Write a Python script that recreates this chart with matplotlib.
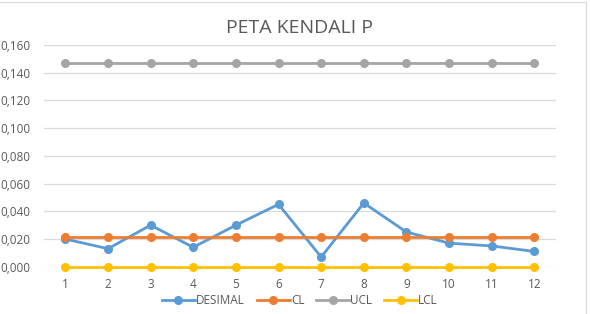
import matplotlib
matplotlib.use("Agg")
import matplotlib.pyplot as plt
from matplotlib.lines import Line2D
from matplotlib.ticker import FuncFormatter

# data
sampel = [1, 2, 3, 4, 5, 6, 7, 8, 9, 10, 11, 12]
desimal = [0.020, 0.013, 0.030, 0.014, 0.030, 0.045, 0.007, 0.046, 0.025, 0.017, 0.015, 0.011]
cl = [0.0212] * 12
ucl = [0.147] * 12
lcl = [0.0] * 12

plt.rcParams['font.family'] = ['Open Sans', 'DejaVu Sans']
txt = '#595959'

fig = plt.figure(figsize=(5.9, 3.14), dpi=100)
ax = fig.add_axes([44 / 590, 0.1506, (555.7 - 44) / 590, 0.8567 - 0.1506])

series = [("DESIMAL", desimal, '#5B9BD5'), ("CL", cl, '#ED7D31'),
          ("UCL", ucl, '#A5A5A5'), ("LCL", lcl, '#FFC000')]
for name, vals, col in series:
    ax.plot(sampel, vals, color=col, lw=2.0, marker='o', ms=5.5, label=name, clip_on=False)

ax.set_xlim(0.5, 12.5)
ax.set_ylim(0, 0.16)
ax.set_yticks([i * 0.02 for i in range(9)])
ax.set_xticks(sampel)
ax.yaxis.set_major_formatter(FuncFormatter(lambda v, p: f"{v:.3f}".replace('.', ',')))
ax.grid(axis='y', color='#D9D9D9', lw=0.9)
ax.set_axisbelow(True)
for s in ax.spines.values():
    s.set_visible(False)
ax.tick_params(axis='y', length=0, labelsize=8.5, colors=txt, pad=10)
ax.tick_params(axis='x', length=0, labelsize=8.5, colors=txt, pad=8)

fig.text(0.508, 0.895, "PETA KENDALI P", ha='center', va='baseline', fontsize=14, color=txt)

ax.legend(loc='upper center', bbox_to_anchor=(0.5, -0.075), ncol=4, frameon=False,
          fontsize=8.5, labelcolor=txt, handlelength=2.8, handletextpad=0.1,
          columnspacing=1.0)

# chart border (only top and right edge visible in the crop)
fig.lines.append(Line2D([0, 586 / 590], [1 - 1.5 / 314] * 2, transform=fig.transFigure,
                        color='#D9D9D9', lw=0.9))
fig.lines.append(Line2D([586 / 590] * 2, [0, 1 - 1.5 / 314], transform=fig.transFigure,
                        color='#D9D9D9', lw=0.9))

fig.savefig("out.png", dpi=100)
